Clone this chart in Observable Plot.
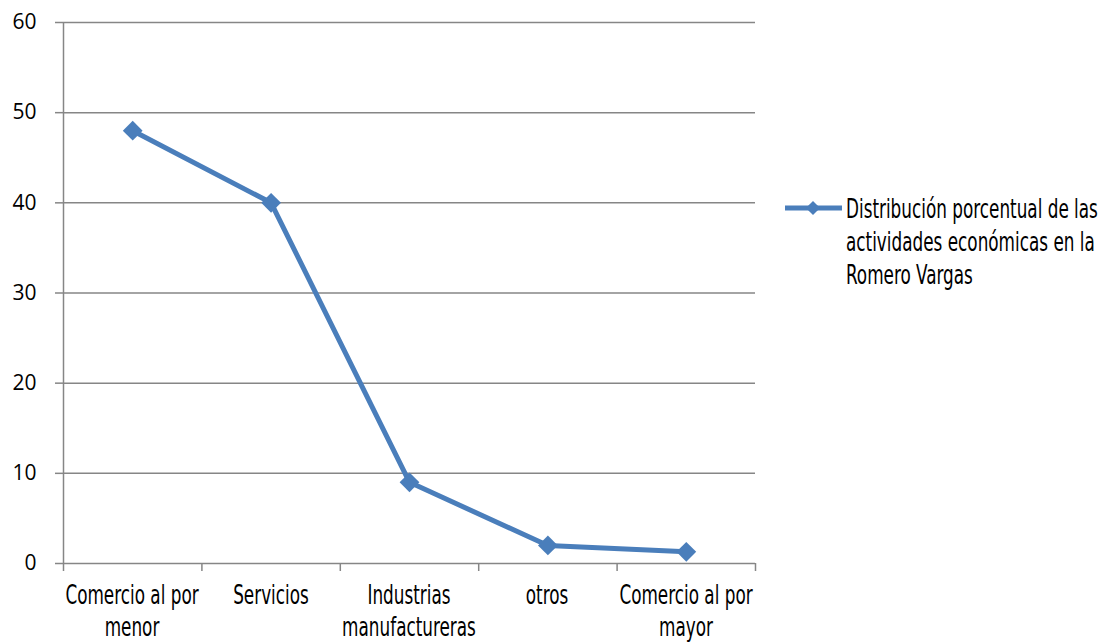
<!DOCTYPE html>
<html><head><meta charset="utf-8">
<script src="https://cdn.jsdelivr.net/npm/d3@7"></script>
<script src="https://cdn.jsdelivr.net/npm/@observablehq/plot@0.6"></script>
<style>
body{margin:0;background:#fff;}
#wrap{position:relative;width:1101px;height:642px;overflow:hidden;}
.cond{font-family:"DejaVu Sans Condensed","DejaVu Sans",sans-serif;font-stretch:condensed;font-size:26px;color:#000;white-space:pre;}
.xlab{position:absolute;top:579px;line-height:32px;text-align:center;transform:translateX(-50%) scaleX(0.72);transform-origin:50% 50%;}
#legend{position:absolute;left:784px;top:190px;}
#legend .txt{position:absolute;left:62px;top:3px;line-height:33px;transform:scaleX(0.72);transform-origin:0 0;}
</style></head><body><div id="wrap"></div>
<script>
const categories = ["Comercio al por\nmenor", "Servicios", "Industrias\nmanufactureras", "otros", "Comercio al por\nmayor"];
const values = [48, 40, 9, 2, 1.3];
const yTicks = [0, 10, 20, 30, 40, 50, 60];
const seriesName = "Distribución porcentual de las\nactividades económicas en la\nRomero Vargas";
const lineColor = "#4a7ebb";

const data = categories.map((c, i) => ({category: c, idx: i + 0.5, value: values[i]}));
const boundaries = d3.range(categories.length + 1);

const chart = Plot.plot({
  width: 1101, height: 642,
  marginLeft: 63, marginRight: 346, marginTop: 22, marginBottom: 79,
  style: {background: "#fff"},
  x: {domain: [0, categories.length], axis: null},
  y: {domain: [0, 60], axis: null},
  marks: [
    Plot.gridY(yTicks, {stroke: "#868686", strokeOpacity: 1, strokeWidth: 1.5}),
    Plot.axisY(yTicks, {tickSize: 8, tickPadding: 19, stroke: "#868686", strokeWidth: 1.5, fill: "#000",
      fontSize: 21, fontFamily: "'Open Sans', sans-serif", label: null}),
    Plot.ruleX([0], {stroke: "#868686", strokeWidth: 1.5}),
    Plot.axisX(boundaries, {tickSize: 8, tickFormat: () => "", stroke: "#868686", strokeWidth: 1.5, label: null}),
    Plot.line(data, {x: "idx", y: "value", stroke: lineColor, strokeWidth: 5}),
    Plot.dot(data, {x: "idx", y: "value", symbol: "square", rotate: 45, r: 7.9, fill: lineColor, stroke: "none"})
  ]
});
const wrap = document.getElementById("wrap");
wrap.appendChild(chart);

// category labels positioned through the chart's own x scale
const xs = chart.scale("x");
for (const d of data) {
  const el = document.createElement("div");
  el.className = "cond xlab";
  el.style.left = xs.apply(d.idx) + "px";
  el.textContent = d.category;
  wrap.appendChild(el);
}

const legend = document.createElement("div");
legend.id = "legend";
legend.innerHTML = `<svg width="60" height="36"><line x1="1" x2="58" y1="18" y2="18" stroke="${lineColor}" stroke-width="5"/><rect x="24" y="13" width="10" height="10" fill="${lineColor}" transform="rotate(45 29 18)"/></svg><div class="cond txt"></div>`;
legend.querySelector(".txt").textContent = seriesName;
wrap.appendChild(legend);
</script>
</body></html>
